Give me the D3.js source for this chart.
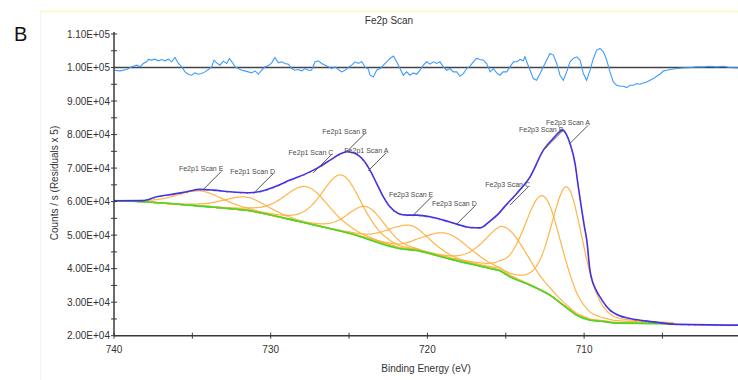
<!DOCTYPE html>
<html>
<head>
<meta charset="utf-8">
<script src="https://cdn.jsdelivr.net/npm/d3@7"></script>
<style>
  html, body { margin: 0; padding: 0; background: #fff; }
  svg { display: block; font-family: "Liberation Sans", Arial, sans-serif; }
</style>
</head>
<body>
<svg id="chart" width="738" height="380"></svg>
<script>
// ---- Axis ticks ----
const xMajorTicks = [740, 730, 720, 710];
const xMinorTicks = [735, 725, 715, 705];
const yMajorTicks = [20000, 30000, 40000, 50000, 60000, 70000, 80000, 90000, 100000, 110000];
const yMinorTicks = [25000, 35000, 45000, 55000, 65000, 75000, 85000, 95000, 105000];

// ---- Fitted envelope (binding energy eV, counts/s) ----
const envelopeEnergy = [740.00, 738.15, 737.28, 736.22, 735.36, 734.51, 733.66, 732.60, 731.32, 730.47,
  729.62, 728.77, 727.70, 727.06, 726.21, 725.58, 725.15, 724.73, 724.09, 723.67,
  723.24, 722.81, 722.39, 721.86, 721.32, 720.68, 719.83, 718.99, 718.13, 717.28,
  716.64, 716.01, 715.37, 715.16, 714.30, 713.45, 712.60, 711.97, 711.37, 711.11,
  710.90, 710.58, 710.37, 710.15, 709.98, 709.83, 709.62, 709.20, 708.99, 708.35,
  707.82, 707.07, 705.58, 704.31, 700.18];
const envelopeCounts = [60240, 60300, 61430, 62240, 62930, 63640, 63430, 62930, 62630, 63220,
  64630, 66420, 68420, 69910, 72390, 74180, 74870, 74570, 72390, 69400,
  65430, 61430, 58450, 56480, 55970, 55970, 55470, 54480, 53290, 52300,
  52180, 54180, 56870, 58060, 62450, 67400, 75370, 78870, 81340, 79850,
  77370, 71400, 64420, 57460, 52480, 48510, 39260, 33290, 31580, 27610,
  26120, 25130, 24120, 23440, 23140];

// ---- Shirley background ----
const backgroundEnergy = [740.00, 738.13, 734.51, 731.32, 728.13, 724.94, 721.75, 720.68, 718.56, 716.01,
  715.37, 714.73, 713.45, 712.18, 711.33, 710.47, 709.62, 708.56, 708.13, 704.33];
const backgroundCounts = [60240, 59940, 58660, 57250, 53970, 50490, 45950, 45400, 42840, 40060,
  39350, 37550, 35080, 32090, 29110, 26120, 24630, 24120, 23820, 23580];

// ---- Peak components (centre eV, height above background, FWHM eV) ----
const componentNames   = ["Fe2p3 Scan A", "Fe2p3 Scan B", "Fe2p3 Scan C", "Fe2p3 Scan D", "Fe2p3 Scan E",
                          "Fe2p1 Scan A", "Fe2p1 Scan B", "Fe2p1 Scan C", "Fe2p1 Scan D", "Fe2p1 Scan E"];
const componentCenters = [711.05, 712.60, 714.95, 718.77, 721.22, 723.87, 725.47, 727.70, 731.60, 734.51];
const componentHeights = [36100, 28560, 13950, 7410, 7310, 9480, 16840, 10920, 3980, 4540];
const componentFwhm    = [2.4, 2.8, 3.2, 3.6, 3.2, 2.8, 3.0, 3.4, 3.4, 3.5];
const lorentzMix = 0.3;

// ---- Label anchor points on the envelope ----
const labelEnergy = [710.90, 712.60, 714.73, 718.13, 720.90, 723.77, 725.15, 727.28, 731.00, 734.30];
const labelCounts = [77370, 75370, 58950, 53290, 55970, 69200, 74870, 68600, 62930, 63640];

// ---- Residuals (x5, plotted about 1.00E+05) ----
const residualZero = 100000;
const residualEnergy = [739.98, 739.62, 739.19, 738.87, 738.55, 738.34, 738.13, 737.92, 737.81, 737.60,
  737.38, 737.17, 736.96, 736.75, 736.53, 736.32, 736.11, 735.89, 735.68, 735.47,
  735.26, 735.04, 734.83, 734.62, 734.41, 734.19, 733.98, 733.77, 733.62, 733.45,
  733.24, 733.02, 732.81, 732.64, 732.43, 732.28, 732.07, 731.85, 731.64, 731.43,
  731.21, 731.00, 730.79, 730.58, 730.36, 730.15, 729.94, 729.73, 729.51, 729.30,
  729.09, 728.87, 728.66, 728.45, 728.24, 728.02, 727.81, 727.60, 727.39, 727.17,
  726.96, 726.75, 726.53, 726.32, 726.11, 725.90, 725.68, 725.47, 725.26, 725.05,
  724.83, 724.62, 724.41, 724.19, 723.98, 723.77, 723.66, 723.45, 723.24, 723.02,
  722.81, 722.60, 722.39, 722.17, 721.96, 721.75, 721.54, 721.32, 721.11, 720.90,
  720.69, 720.47, 720.26, 720.05, 719.83, 719.62, 719.41, 719.20, 718.98, 718.77,
  718.56, 718.35, 718.13, 717.92, 717.71, 717.49, 717.28, 717.07, 716.86, 716.64,
  716.43, 716.22, 716.00, 715.79, 715.58, 715.37, 715.17, 714.94, 714.73, 714.51,
  714.30, 714.09, 713.88, 713.77, 713.66, 713.45, 713.24, 713.03, 712.81, 712.60,
  712.39, 712.18, 711.96, 711.75, 711.54, 711.33, 711.11, 710.90, 710.69, 710.47,
  710.26, 710.05, 709.84, 709.62, 709.41, 709.20, 708.99, 708.77, 708.56, 708.35,
  708.14, 707.92, 707.71, 707.50, 707.28, 707.07, 706.86, 706.65, 706.43, 706.22,
  706.01, 705.79, 705.58, 705.37, 705.16, 704.94, 704.73, 704.52, 704.09, 703.67,
  703.24, 702.82, 702.39, 701.97, 701.54, 701.11, 700.69, 700.18];
const residualCounts = [99200, 99000, 99400, 100200, 100700, 100200, 101200, 101700, 102400, 102200,
  102500, 102000, 102400, 102000, 102500, 101700, 103000, 101200, 100200, 98700,
  98000, 97700, 98400, 98000, 98200, 98700, 99400, 100200, 102200, 101400,
  100700, 101900, 101200, 102700, 101400, 100200, 99700, 99200, 99000, 98700,
  98400, 99000, 98000, 99200, 100200, 100500, 101400, 103000, 101400, 101700,
  101200, 101000, 99700, 99200, 99400, 99000, 99700, 99200, 99200, 101700,
  102000, 101200, 100700, 100200, 99700, 100200, 99400, 98700, 99200, 100000,
  100700, 101700, 101200, 101700, 100200, 99500, 97700, 97200, 99200, 99700,
  100700, 101700, 102700, 103400, 101700, 99700, 97700, 98700, 97700, 98400,
  98000, 99200, 100700, 101700, 101000, 101700, 101200, 101700, 100200, 99200,
  99700, 98700, 98700, 97400, 98200, 99700, 100400, 101700, 102700, 102400,
  102200, 101200, 98700, 99700, 98400, 97700, 98700, 98700, 100200, 101700,
  101700, 102400, 102000, 103200, 101700, 99200, 96700, 96200, 98200, 100200,
  102200, 104200, 103700, 101200, 97700, 96200, 98700, 101700, 102700, 103200,
  102200, 98200, 96200, 99200, 102700, 105200, 105700, 104700, 102200, 98700,
  95700, 94700, 94400, 94400, 94000, 94700, 94700, 95200, 95000, 95400,
  95700, 96200, 96700, 97400, 98000, 99000, 99200, 99400, 99700, 99900,
  100000, 100200, 100200, 100400, 100200, 100400, 100000, 99900];

// ---- Layout ----
const svg = d3.select("#chart");
const plotLeft = 114, plotRight = 738, plotTop = 34, plotBottom = 335.7;

const x = d3.scaleLinear().domain([740, 700.18]).range([plotLeft, plotRight]);
const y = d3.scaleLinear().domain([20000, 110000]).range([plotBottom, plotTop]);

const sciFormat = v => {
  const [m, e] = v.toExponential(2).toUpperCase().split("E");
  const n = parseInt(e, 10);
  return m + "E" + (n < 0 ? "-" : "+") + String(Math.abs(n)).padStart(2, "0");
};

// Panel frame: pale top rule and faint left edge
svg.append("line").attr("x1", 40).attr("x2", 738).attr("y1", 11.5).attr("y2", 11.5)
  .attr("stroke", "#fbfbc8").attr("stroke-width", 2);
svg.append("line").attr("x1", 40.5).attr("x2", 40.5).attr("y1", 12).attr("y2", 380)
  .attr("stroke", "#f3f3f3").attr("stroke-width", 1);

// Panel letter and title
svg.append("text").attr("x", 14).attr("y", 40.5).attr("font-size", 20).attr("fill", "#111").text("B");
svg.append("text").attr("x", 389).attr("y", 23.5).attr("text-anchor", "middle")
  .attr("font-size", 10).attr("fill", "#333").text("Fe2p Scan");

// ---- Curves ----
const bgAt = d3.scaleLinear().domain(backgroundEnergy).range(backgroundCounts).clamp(true);

function glShape(e, c, h, w) {
  const t = (e - c) / w;
  const g = Math.exp(-4 * Math.LN2 * t * t);
  const l = 1 / (1 + 4 * t * t);
  return h * ((1 - lorentzMix) * g + lorentzMix * l);
}

const regionEnergies = d3.range(740, 704.3, -0.05);
const line = d3.line().x(d => x(d[0])).y(d => y(d[1]));
const smooth = d3.line().x(d => x(d[0])).y(d => y(d[1])).curve(d3.curveMonotoneX);

const gCurves = svg.append("g");

// components drawn on top of background
componentCenters.forEach((c, i) => {
  const pts = regionEnergies.map(e => [e, bgAt(e) + glShape(e, c, componentHeights[i], componentFwhm[i])]);
  gCurves.append("path").attr("d", line(pts)).attr("fill", "none")
    .attr("stroke", "#ffb13d").attr("stroke-width", 1.2).attr("opacity", 0.95);
});

// background
const bgPts = backgroundEnergy.map((e, i) => [e, backgroundCounts[i]]);
gCurves.append("path").attr("d", smooth(bgPts)).attr("fill", "none")
  .attr("stroke", "#3fdc2a").attr("stroke-width", 1.6);

// envelope and measured data
const envPts = envelopeEnergy.map((e, i) => [e, envelopeCounts[i]]);
gCurves.append("path").attr("d", smooth(envPts)).attr("fill", "none")
  .attr("stroke", "#3434f4").attr("stroke-width", 1.6);
gCurves.append("path").attr("d", smooth(envPts)).attr("fill", "none")
  .attr("stroke", "#ee2222").attr("stroke-width", 1.1).attr("stroke-dasharray", "1.2,5.5")
  .attr("transform", "translate(0,0.6)").attr("opacity", 0.8);

// residual baseline and residual trace
svg.append("line").attr("x1", plotLeft).attr("x2", plotRight)
  .attr("y1", y(residualZero)).attr("y2", y(residualZero))
  .attr("stroke", "#444").attr("stroke-width", 1.4);
const resPts = residualEnergy.map((e, i) => [e, residualCounts[i]]);
svg.append("path").attr("d", line(resPts)).attr("fill", "none")
  .attr("stroke", "#3d9bff").attr("stroke-width", 1.1);

// ---- Axes ----
const gAxis = svg.append("g").attr("stroke", "#3a3a3a");
gAxis.append("line").attr("x1", plotLeft).attr("x2", plotLeft).attr("y1", plotTop - 2).attr("y2", plotBottom)
  .attr("stroke-width", 1.5);
gAxis.append("line").attr("x1", plotLeft).attr("x2", plotRight).attr("y1", plotBottom).attr("y2", plotBottom)
  .attr("stroke-width", 1.5);

yMajorTicks.concat(yMinorTicks).forEach(v => {
  gAxis.append("line").attr("x1", plotLeft - 3).attr("x2", plotLeft + 3)
    .attr("y1", y(v)).attr("y2", y(v)).attr("stroke-width", 1);
});
xMajorTicks.concat(xMinorTicks).forEach(v => {
  gAxis.append("line").attr("x1", x(v)).attr("x2", x(v))
    .attr("y1", plotBottom - 3).attr("y2", plotBottom + 3).attr("stroke-width", 1);
});

svg.append("g").selectAll("text").data(yMajorTicks).join("text")
  .attr("x", plotLeft - 4).attr("y", d => y(d) + 3.5).attr("text-anchor", "end")
  .attr("font-size", 10).attr("fill", "#333").text(sciFormat);

svg.append("g").selectAll("text").data(xMajorTicks).join("text")
  .attr("x", d => x(d)).attr("y", 353).attr("text-anchor", "middle")
  .attr("font-size", 10).attr("fill", "#333").text(d => d);

svg.append("text").attr("x", 426).attr("y", 372).attr("text-anchor", "middle")
  .attr("font-size", 10).attr("fill", "#333").text("Binding Energy (eV)");

svg.append("text").attr("transform", "translate(58,183) rotate(-90)").attr("text-anchor", "middle")
  .attr("font-size", 10).attr("fill", "#333").text("Counts / s  (Residuals x 5)");

// ---- Component labels with leader lines ----
const leadDx = 18, leadDy = -18;
const gLab = svg.append("g");
componentNames.forEach((name, i) => {
  const ax = x(labelEnergy[i]), ay = y(labelCounts[i]);
  gLab.append("line").attr("x1", ax).attr("y1", ay).attr("x2", ax + leadDx).attr("y2", ay + leadDy)
    .attr("stroke", "#555").attr("stroke-width", 1);
  gLab.append("text").attr("x", ax + leadDx + 2).attr("y", ay + leadDy)
    .attr("text-anchor", "end").attr("font-size", 7).attr("fill", "#4a4a4a").text(name);
});
</script>
</body>
</html>
